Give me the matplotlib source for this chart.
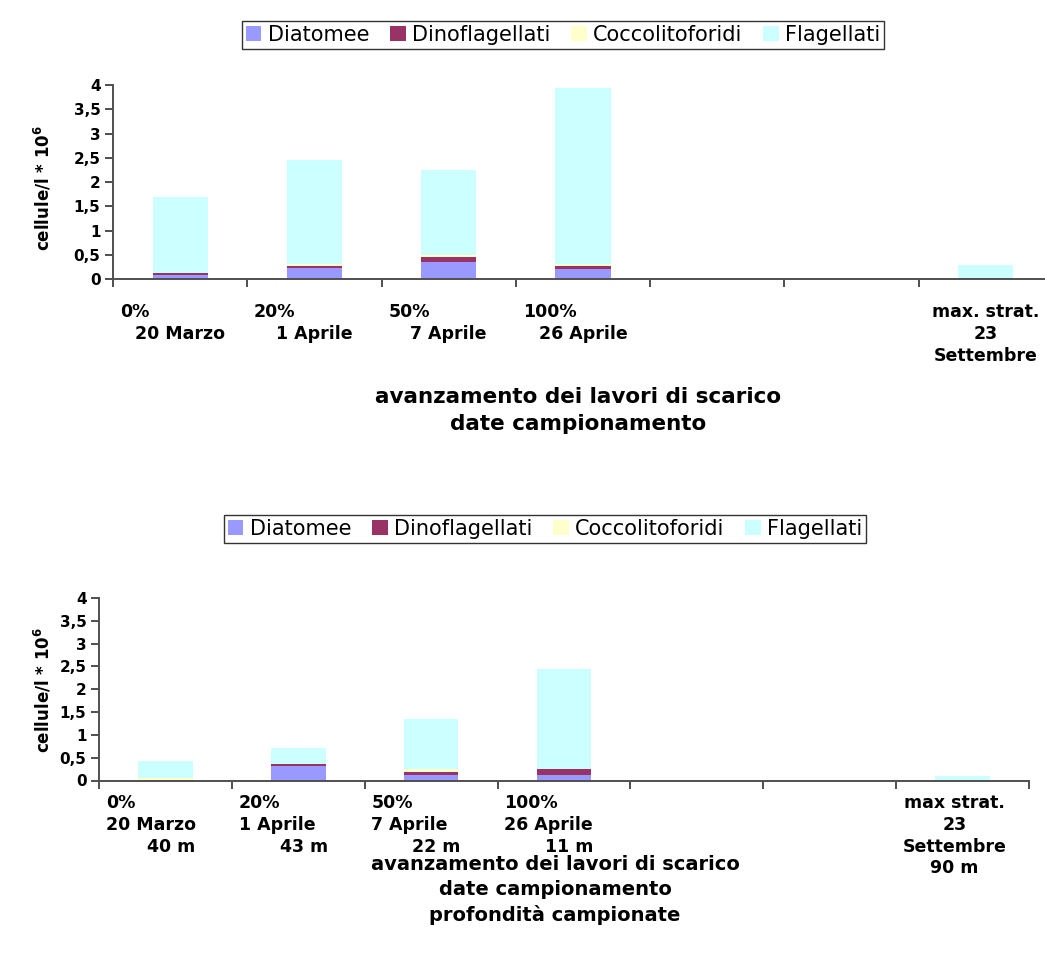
import matplotlib.pyplot as plt
import numpy as np

plt.rcParams["font.family"] = ["DejaVu Sans"]

groups = ["Diatomee", "Dinoflagellati", "Coccolitoforidi", "Flagellati"]
colors = ["#9999FF", "#993366", "#FFFFCC", "#CCFFFF"]

# cellule/l * 10^6 per campionamento (columns 5 and 6 are empty slots)
top_diatomee = [0.08, 0.23, 0.35, 0.21, 0, 0, 0.0]
top_dino = [0.04, 0.04, 0.10, 0.06, 0, 0, 0.02]
top_cocco = [0.005, 0.04, 0.04, 0.04, 0, 0, 0.0]
top_flag = [1.57, 2.14, 1.76, 3.62, 0, 0, 0.26]

bot_diatomee = [0.0, 0.32, 0.12, 0.12, 0, 0, 0.0]
bot_dino = [0.01, 0.04, 0.07, 0.13, 0, 0, 0.0]
bot_cocco = [0.05, 0.01, 0.06, 0.0, 0, 0, 0.0]
bot_flag = [0.37, 0.34, 1.09, 2.19, 0, 0, 0.09]

top_cats = [
    ["0%", "20 Marzo"],
    ["20%", "1 Aprile"],
    ["50%", "7 Aprile"],
    ["100%", "26 Aprile"],
    [],
    [],
    ["max. strat.", "23", "Settembre"],
]
bot_cats = [
    ["0%", "20 Marzo", "40 m"],
    ["20%", "1 Aprile", "43 m"],
    ["50%", "7 Aprile", "22 m"],
    ["100%", "26 Aprile", "11 m"],
    [],
    [],
    ["max strat.", "23", "Settembre", "90 m"],
]
top_title = ["avanzamento dei lavori di scarico", "date campionamento"]
bot_title = ["avanzamento dei lavori di scarico", "date campionamento",
             "profondità campionate"]
yticks = np.arange(0, 4.01, 0.5)
ytick_labels = ["0", "0,5", "1", "1,5", "2", "2,5", "3", "3,5", "4"]

W, H = 1045, 957
fig = plt.figure(figsize=(W / 100, H / 100), dpi=100)


def px_axes(left, right, top, bottom):
    return fig.add_axes([left / W, 1 - bottom / H, (right - left) / W,
                         (bottom - top) / H])


def draw_panel(ax, series, cats, n_left, first_off, step, mid_shift,
               last_shift):
    x = np.arange(len(cats))
    base = np.zeros(len(cats))
    for vals, col, name in zip(series, colors, groups):
        ax.bar(x, vals, width=0.41, bottom=base, color=col, label=name,
               linewidth=0, zorder=2)
        base += np.array(vals)
    ax.set_xlim(-0.5, len(cats) - 0.5)
    ax.set_ylim(0, 4)
    ax.set_xticks(np.arange(-0.5, len(cats), 1))
    ax.set_xticklabels([])
    ax.set_yticks(yticks)
    ax.set_yticklabels(ytick_labels, fontsize=11, fontweight="bold")
    ax.tick_params(direction="out", length=6, width=1.2, color="#303030",
                   pad=3)
    for s in ("top", "right"):
        ax.spines[s].set_visible(False)
    for s in ("left", "bottom"):
        ax.spines[s].set_color("#505050")
        ax.spines[s].set_linewidth(1.4)
    # category labels: first lines flush left in the column, rest centred
    for i, lines in enumerate(cats):
        last = i == len(cats) - 1
        for k, txt in enumerate(lines):
            if last:
                xx, ha = i + last_shift, "center"
            elif k < n_left:
                xx, ha = i - 0.5 + 0.05, "left"
            else:
                xx, ha = i + mid_shift, "center"
            ax.annotate(txt, xy=(xx, 0), xycoords=("data", "axes fraction"),
                        xytext=(0, -(first_off + k * step)),
                        textcoords="offset points", ha=ha, va="center",
                        fontsize=12.5, fontweight="bold",
                        annotation_clip=False)


def title_lines(lines, cx, first_y, step, size):
    for k, txt in enumerate(lines):
        fig.text(cx / W, 1 - (first_y + k * step) / H, txt, ha="center",
                 va="center", fontsize=size, fontweight="bold")


ax1 = px_axes(113, 1053, 85, 279)
draw_panel(ax1, [top_diatomee, top_dino, top_cocco, top_flag], top_cats,
           1, 23.5, 16, 0.0, 0.0)
ax2 = px_axes(99, 1029, 598, 780.5)
draw_panel(ax2, [bot_diatomee, bot_dino, bot_cocco, bot_flag], bot_cats,
           2, 16.5, 15.6, 0.04, -0.06)

ylab = "cellule/l * 10$^{\\mathbf{6}}$"
fig.text(43 / W, 1 - 188 / H, ylab, rotation=90, ha="center", va="center",
         fontsize=12, fontweight="bold")
fig.text(43 / W, 1 - 690 / H, ylab, rotation=90, ha="center", va="center",
         fontsize=12, fontweight="bold")

title_lines(top_title, 578, 397, 27, 15.5)
title_lines(bot_title, 555, 864, 25.5, 14)

for ax, cx, cy in ((ax1, 563, 35), (ax2, 545, 529)):
    h, l = ax.get_legend_handles_labels()
    leg = fig.legend(h, l, loc="center", bbox_to_anchor=(cx / W, 1 - cy / H),
                     ncol=4, fontsize=15, frameon=True, fancybox=False,
                     edgecolor="#000000", handlelength=0.75,
                     handleheight=0.75, handletextpad=0.3,
                     columnspacing=1.0, borderpad=0.2, borderaxespad=0)
    leg.get_frame().set_linewidth(1.0)

fig.savefig("out.png", dpi=100)
